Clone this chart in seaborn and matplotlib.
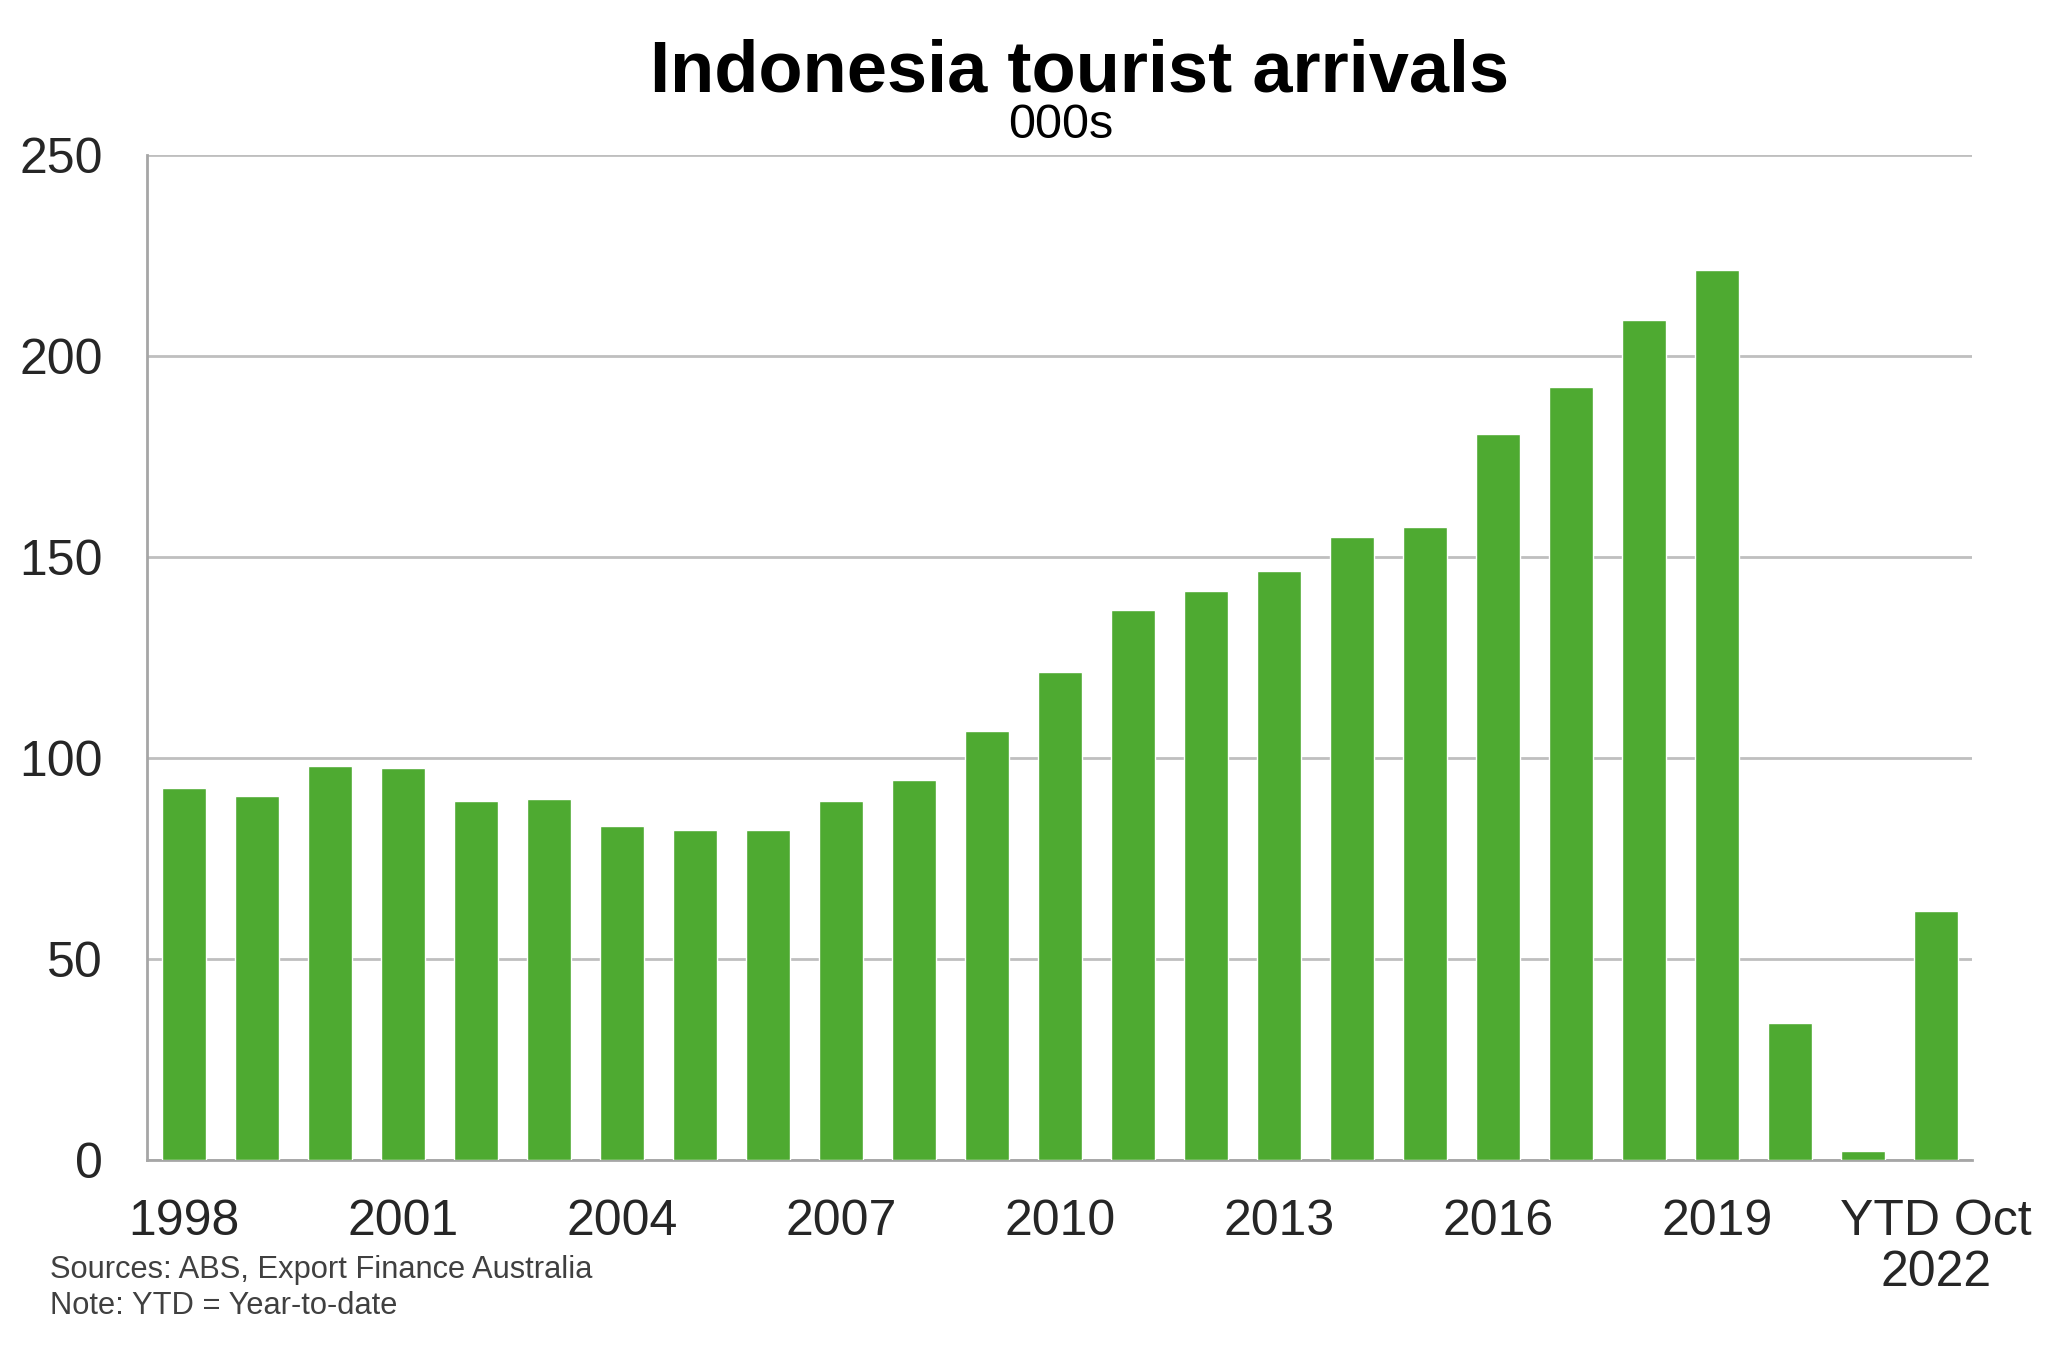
import matplotlib
matplotlib.use("Agg")
import matplotlib.pyplot as plt
import seaborn as sns
import pandas as pd

years = [str(y) for y in range(1998, 2023)]
arrivals = [92.5, 90.6, 98.0, 97.4, 89.3, 89.9, 83.1, 82.1, 82.1, 89.3, 94.5,
            106.8, 121.4, 136.7, 141.6, 146.4, 154.9, 157.5, 180.5, 192.2,
            208.8, 221.4, 34.1, 2.3, 62.0]
tick_pos = [0, 3, 6, 9, 12, 15, 18, 21, 24]
tick_labels = ["1998", "2001", "2004", "2007", "2010", "2013", "2016", "2019", "YTD Oct\n2022"]
yticks = [0, 50, 100, 150, 200, 250]

sns.set_theme(style="white")
plt.rcParams['font.family'] = ['Liberation Sans', 'DejaVu Sans']

df = pd.DataFrame({"year": years, "arrivals": arrivals})

fig = plt.figure(figsize=(20.48, 13.45), dpi=100)
ax = fig.add_axes([0.072, 0.1375, 0.891, 0.7475])

sns.barplot(data=df, x="year", y="arrivals", color="#4EAA31", width=0.6,
            saturation=1, ax=ax, zorder=3)

ax.set_xlim(-0.5, 24.5)
ax.set_ylim(0, 250)
ax.set_yticks(yticks)
ax.set_yticklabels([str(v) for v in yticks], fontsize=36)
ax.set_xticks(tick_pos)
ax.set_xticklabels(tick_labels, fontsize=36, linespacing=1.15)
ax.tick_params(axis="x", length=0, pad=28)
ax.tick_params(axis="y", length=0, pad=32)
ax.set_xlabel("")
ax.set_ylabel("")
ax.yaxis.grid(True, color="#BFBFBF", linewidth=2, zorder=0)
ax.set_axisbelow(True)
for s in ["top", "right"]:
    ax.spines[s].set_visible(False)
for s in ["left", "bottom"]:
    ax.spines[s].set_color("#A6A6A6")
    ax.spines[s].set_linewidth(2)

fig.text(0.527, 0.946, "Indonesia tourist arrivals", ha="center", va="center",
         fontsize=52, fontweight="bold", color="black")
fig.text(0.518, 0.907, "000s", ha="center", va="center", fontsize=35, color="black")

fig.text(0.0245, 0.0555, "Sources: ABS, Export Finance Australia", ha="left", va="center",
         fontsize=22.2, color="#404040")
fig.text(0.0245, 0.029, "Note: YTD = Year-to-date", ha="left", va="center",
         fontsize=22.2, color="#404040")

fig.savefig("out.png", dpi=100)
